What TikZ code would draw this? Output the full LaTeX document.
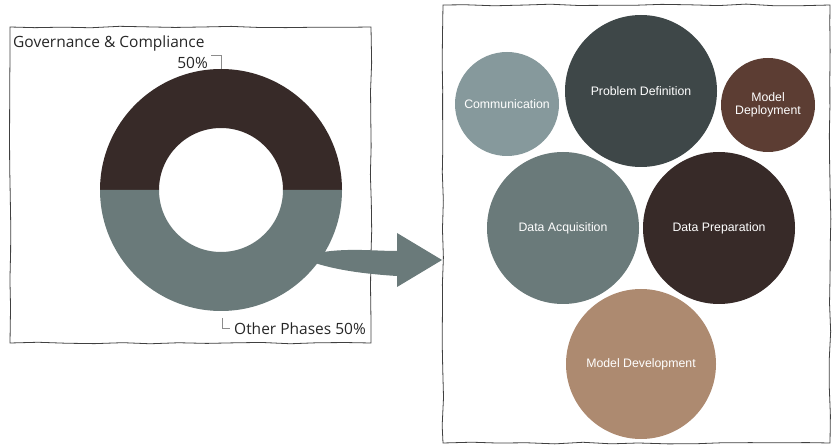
\documentclass[tikz,border=0pt]{standalone}
\usepackage{fontspec}
\setmainfont{Open Sans}
\newfontfamily\arialfont{Liberation Sans}
\usetikzlibrary{decorations.pathmorphing}

\definecolor{darkbrown}{HTML}{372A28}
\definecolor{slategray}{HTML}{6A7A7A}
\definecolor{lightslate}{HTML}{86999C}
\definecolor{charcoal}{HTML}{3E4748}
\definecolor{rust}{HTML}{5C3D33}
\definecolor{tan}{HTML}{AD8A70}

\tikzset{
	sketch/.style={draw=black!75, line width=0.8pt, decorate,
		decoration={random steps, segment length=28pt, amplitude=0.9pt}},
	phase/.style={circle, inner sep=0pt, text=white, align=center,
		font=\arialfont\fontsize{12.3}{13.5}\selectfont},
	leader/.style={draw=black!45, line width=0.6pt},
	donutlabel/.style={inner sep=0pt, font=\fontsize{15.5}{17}\selectfont, text=black!85}
}

\begin{document}
\begin{tikzpicture}[x=1pt, y=-1pt]
		\pgfmathsetseed{11}
		\def\outR{121} % Outer radius of the ring
		\def\inR{62} % Inner radius of the ring
		
		\useasboundingbox (0,0) rectangle (833,446);
		
		% Hand drawn frames
		\draw[sketch] (10,27) rectangle (371,343);
		\draw[sketch] (443,5) rectangle (830,443);
		
		% Ring chart
		\coordinate (ring) at (221,190);
		\fill[darkbrown] (ring) ++(-\outR,0) arc[start angle=180, end angle=360, radius=\outR]
			-- ++(-\outR+\inR,0) arc[start angle=360, end angle=180, radius=\inR] -- cycle;
		\fill[slategray] (ring) ++(\outR,0) arc[start angle=0, end angle=180, radius=\outR]
			-- ++(\outR-\inR,0) arc[start angle=180, end angle=0, radius=\inR] -- cycle;
		
		% Labels of the ring
		\node[donutlabel, anchor=west] (gov) at (13,43) {Governance \& Compliance};
		\node[donutlabel, anchor=east] (govpct) at (208,63) {50\%};
		\node[donutlabel, anchor=west] (other) at (234,329) {Other Phases 50\%};
		\draw[leader] (govpct.north east) ++(3,-2) coordinate (g1) -- ++(10,0) -- ++(0,14);
		\draw[leader] (other.west) ++(-12,-11) coordinate (o1) -- ++(0,10) -- ++(8,0);
		
		% Curved block arrow to the phase bubbles
		\coordinate (tip) at (442,260);
		\fill[slategray] (323,252) .. controls (350,248) and (375,251) .. (397,251)
			-- (397,233) -- (tip) -- (397,287) -- (397,276)
			.. controls (365,274) and (335,270) .. (312,262) -- cycle;
		
		% Phase bubbles
		\foreach \name/\x/\y/\r/\col/\txt in {
			comm/507/104/52/lightslate/{Communication},
			prob/641/91/76/charcoal/{Problem Definition},
			depl/768/105/47/rust/{Model\\Deployment},
			acq/563/228/76/slategray/{Data Acquisition},
			prep/719/228/76/darkbrown/{Data Preparation},
			dev/641/364/75/tan/{Model Development}} {
			\node[phase, fill=\col, minimum size=2*\r] (\name) at (\x,\y) {\txt};
		}
	\end{tikzpicture}
\end{document}
